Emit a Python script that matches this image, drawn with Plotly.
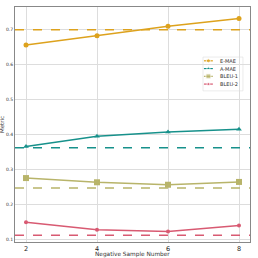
import plotly.graph_objects as go

neg_samples = [2, 4, 6, 8]
e_mae = [0.655, 0.681, 0.708, 0.730]
a_mae = [0.366, 0.395, 0.407, 0.415]
bleu1 = [0.276, 0.264, 0.257, 0.265]
bleu2 = [0.150, 0.129, 0.124, 0.141]
baselines = {"E-MAE": 0.698, "A-MAE": 0.362, "BLEU-1": 0.248, "BLEU-2": 0.113}
y_ticks = [0.1, 0.2, 0.3, 0.4, 0.5, 0.6, 0.7]

series = [
    ("E-MAE", e_mae, "#DDA21D", "circle", 5),
    ("A-MAE", a_mae, "#17918B", "triangle-up", 5),
    ("BLEU-1", bleu1, "#B8B46A", "square", 6),
    ("BLEU-2", bleu2, "#D85A72", "circle", 4),
]

fig = go.Figure()
for name, vals, color, sym, ms in series:
    fig.add_trace(go.Scatter(
        x=neg_samples, y=vals, name=name, mode="lines+markers",
        line=dict(color=color, width=1.5),
        marker=dict(symbol=sym, size=ms, color=color),
        showlegend=False,
    ))
    fig.add_hline(y=baselines[name], line=dict(color=color, width=1.5, dash="dash"))

# compact legend drawn on an overlay axis spanning [0,1]
leg_x0, leg_x1, leg_y0, leg_y1 = 0.80, 0.97, 0.643, 0.787
item_y = [0.771, 0.738, 0.705, 0.672]
fig.add_shape(type="rect", xref="paper", yref="paper",
              x0=leg_x0, x1=leg_x1, y0=leg_y0, y1=leg_y1,
              line=dict(color="#dddddd", width=0.6), fillcolor="white", layer="between")
for (name, vals, color, sym, ms), yy in zip(series, item_y):
    fig.add_trace(go.Scatter(
        x=[0.804, 0.823, 0.842], y=[yy, yy, yy], xaxis="x2", yaxis="y2",
        mode="lines+markers", showlegend=False, hoverinfo="skip",
        line=dict(color=color, width=1.2),
        marker=dict(symbol=sym, size=[0, max(ms - 1, 3), 0], color=color),
    ))
    fig.add_annotation(x=0.865, y=yy, xref="paper", yref="paper", text=name,
                       showarrow=False, xanchor="left", yanchor="middle",
                       font=dict(size=5, color="#333"))

fig.add_annotation(x=0.5, y=-0.055, xref="paper", yref="paper",
                   text="Negative Sample Number", showarrow=False,
                   xanchor="center", yanchor="middle", font=dict(size=5.8, color="#333"))
fig.add_annotation(x=-0.036, y=0.5, xref="paper", yref="paper",
                   text="Metric", showarrow=False, textangle=-90,
                   xanchor="right", yanchor="middle", font=dict(size=5.5, color="#333"))

axis_common = dict(showgrid=True, gridcolor="#dddddd", gridwidth=1,
                   showline=True, linecolor="#888888", linewidth=1, mirror=True,
                   zeroline=False, ticks="", automargin=False)
fig.update_layout(
    width=258, height=258,
    margin=dict(l=15, r=8, t=7, b=16, pad=0),
    paper_bgcolor="white", plot_bgcolor="white",
    font=dict(family="DejaVu Sans", color="#333"),
    showlegend=False, hovermode=False,
    xaxis=dict(range=[1.69, 8.31], tickvals=neg_samples,
               tickfont=dict(size=6.5, color="#222"), **axis_common),
    yaxis=dict(range=[0.094, 0.763], tickvals=y_ticks, tickformat=".1f",
               tickfont=dict(size=4.5, color="#333"), **axis_common),
    xaxis2=dict(range=[0, 1], overlaying="x", visible=False, fixedrange=True),
    yaxis2=dict(range=[0, 1], overlaying="y", visible=False, fixedrange=True),
)
fig.write_html("out.html", config={"displayModeBar": False, "staticPlot": True},
               post_script="document.body.style.margin='0';document.body.style.padding='0';"
                           "document.body.style.overflow='hidden';")
